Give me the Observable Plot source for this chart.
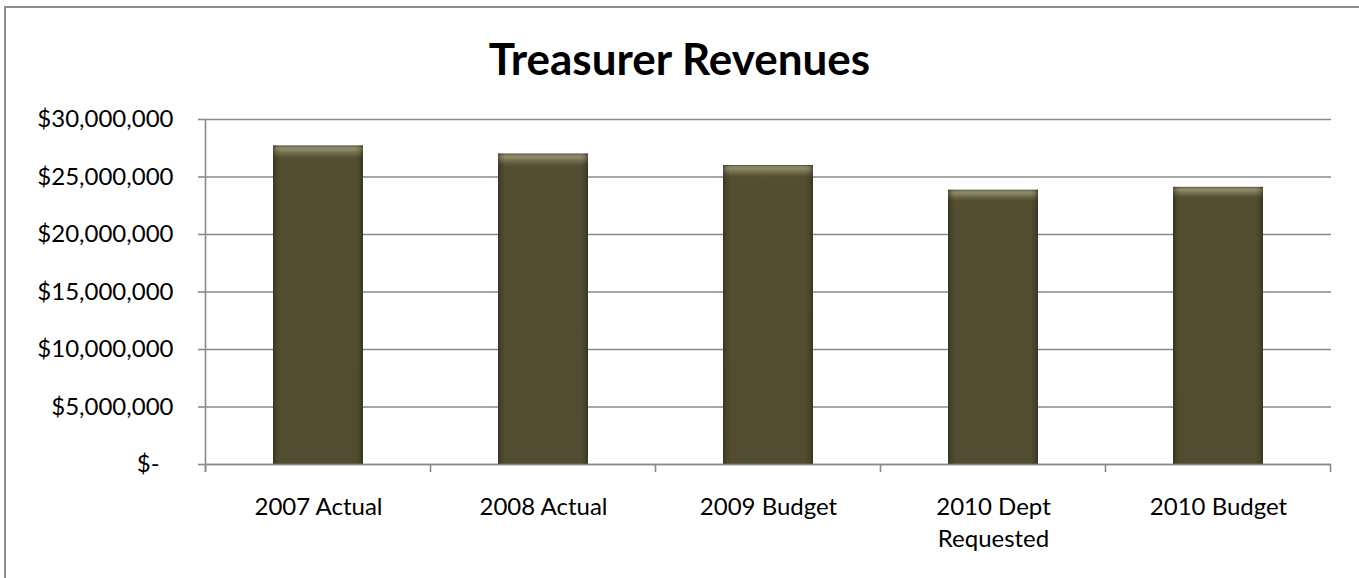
<!DOCTYPE html>
<html>
<head>
<meta charset="utf-8">
<script src="https://cdn.jsdelivr.net/npm/d3@7"></script>
<script src="https://cdn.jsdelivr.net/npm/@observablehq/plot@0.6"></script>
<style>
  html, body { margin: 0; padding: 0; width: 1359px; height: 578px; overflow: hidden; background: #fff; }
  #frame { position: absolute; left: 4px; top: 6px; width: 1420px; height: 640px; border: 2px solid #8d8d8d; box-sizing: border-box; z-index: 2; pointer-events: none; background: transparent; }
  #title { position: absolute; left: 0; top: 0; width: 1359px; height: 100px; box-sizing: border-box; padding-top: 33px;
           text-align: center; font: bold 44px Lato, "Open Sans", sans-serif; line-height: 50px; color: #000; }
  #chart { position: absolute; left: 0; top: 100px; }
</style>
</head>
<body>
<div id="frame"></div>
<div id="title">Treasurer Revenues</div>
<div id="chart"></div>
<script>
const categories = ["2007 Actual", "2008 Actual", "2009 Budget", "2010 Dept\nRequested", "2010 Budget"];
const revenues = [27700000, 27000000, 26000000, 23850000, 24100000];
const yTicks = [0, 5000000, 10000000, 15000000, 20000000, 25000000, 30000000];

const data = categories.map((c, i) => ({category: c, value: revenues[i]}));
const fmt = d3.format("$,");

const plot = Plot.plot({
  width: 1359,
  height: 478,
  marginTop: 19,
  marginBottom: 114,
  marginLeft: 206,
  marginRight: 28,
  style: {fontFamily: "Lato, 'Open Sans', sans-serif", fontSize: "24px", color: "#000", background: "transparent"},
  x: {domain: categories, paddingInner: 0.6, paddingOuter: 0.3, label: null},
  y: {domain: [0, 30000000], label: null},
  marks: [
    Plot.gridY(yTicks, {stroke: "#8a8a8a", strokeOpacity: 1, strokeWidth: 1.6}),
    Plot.barY(data, {x: "category", y: "value", fill: "url(#barV)", style: "filter: drop-shadow(1px 1px 1.5px rgba(0,0,0,0.35))"}),
    Plot.barY(data, {x: "category", y: "value", fill: "url(#barH)"}),
    Plot.ruleY([0], {stroke: "#8a8a8a", strokeWidth: 1.6}),
    Plot.axisY({ticks: yTicks, tickSize: 8, tickPadding: 25, stroke: "#8a8a8a", strokeWidth: 1.6,
      tickFormat: d => d === 0 ? "$-\u2007" : fmt(d), fill: "#000"}),
    Plot.axisX({tickSize: 0, tickPadding: 28, lineHeight: 1.34, fill: "#000"})
  ]
});

document.getElementById("chart").appendChild(plot);

// gradients for bevelled bars
const svg = d3.select(plot);
const defs = svg.insert("defs", ":first-child");
const gv = defs.append("linearGradient").attr("id", "barV").attr("x1", 0).attr("y1", 0).attr("x2", 0).attr("y2", 1);
[[0, "#4a462d"], [0.005, "#86815f"], [0.012, "#8e8968"], [0.022, "#76714f"], [0.034, "#5b573a"], [0.042, "#524e32"], [1, "#514d31"]]
  .forEach(([o, c]) => gv.append("stop").attr("offset", o).attr("stop-color", c));
const gh = defs.append("linearGradient").attr("id", "barH").attr("x1", 0).attr("y1", 0).attr("x2", 1).attr("y2", 0);
[[0, "rgba(30,28,15,0.5)"], [0.04, "rgba(30,28,15,0.15)"], [0.08, "rgba(0,0,0,0)"], [0.92, "rgba(0,0,0,0)"], [0.96, "rgba(30,28,15,0.15)"], [1, "rgba(30,28,15,0.5)"]]
  .forEach(([o, c]) => gh.append("stop").attr("offset", o).attr("stop-color", c));

// axis decorations: y-axis line and x category boundary ticks
const x = plot.scale("x");
const y = plot.scale("y");
const step = x.bandwidth / (1 - x.paddingInner);
const y0 = y.apply(0);
const yTop = y.apply(30000000);
const left = x.apply(categories[0]) - (step - x.bandwidth) / 2;
const g = svg.append("g").attr("stroke", "#8a8a8a").attr("stroke-width", 1.6);
g.append("line").attr("x1", left).attr("x2", left).attr("y1", yTop).attr("y2", y0 + 8);
for (let i = 0; i <= categories.length; i++) {
  const bx = left + i * step;
  g.append("line").attr("x1", bx).attr("x2", bx).attr("y1", y0).attr("y2", y0 + 8);
}
</script>
</body>
</html>
